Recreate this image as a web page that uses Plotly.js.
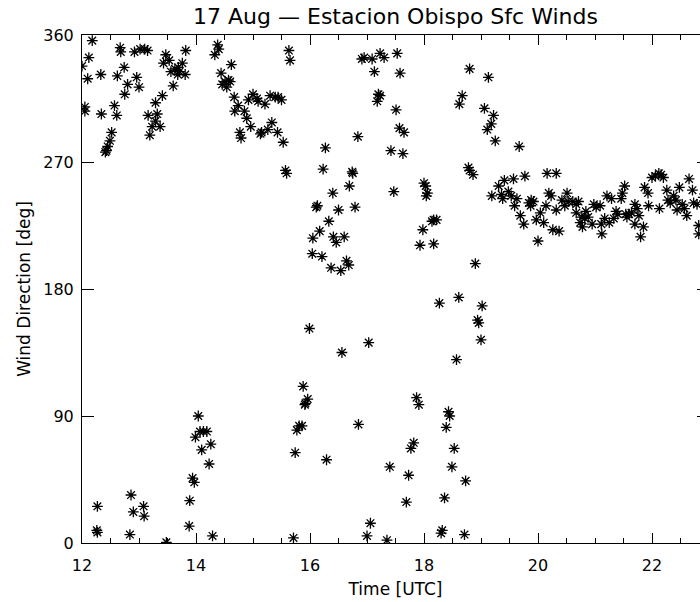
<!DOCTYPE html>
<html>
<head>
<meta charset="utf-8">
<script src="https://cdn.plot.ly/plotly-3.0.1.min.js"></script>
<style>
html,body{margin:0;padding:0;overflow:hidden;background:#fff;}
#chart{width:740px;height:602px;}
</style>
</head>
<body>
<div id="chart"></div>
<script>
// Time (UTC hours) and wind direction (deg)
const timeA = [12.18,12.12,12.00,12.10,12.05,12.05,12.33,12.34,12.52,12.49,12.45,12.41,12.43,12.57,12.61,12.62,12.74,12.67,12.68,12.80,12.75,12.92,13.02,13.10,13.15,12.96,13.00,13.16,13.32,13.29,13.23,13.37,13.19,13.29,13.41,13.60,13.47,13.43,13.53,13.56,13.63,13.69,13.76,13.68,13.81,13.71,13.82,14.33,14.38,14.40,14.62,14.44,14.51,14.46,14.57,14.54,14.60,14.67,14.74,14.68,14.85,14.89,14.96,14.77,14.79,14.92,15.00,15.09,15.07,15.21,15.15,15.13,15.26,15.33,15.30,15.39,15.44,15.50,15.43,15.53,15.57,15.59,15.63,15.65];
const dirA  = [356,344,338,329,309,306,332,304,291,285,281,277,278,310,303,331,337,351,348,325,318,348,350,350,349,330,323,303,304,299,295,295,289,312,317,324,346,340,342,334,336,337,340,332,332,334,349,346,353,350,339,333,327,325,328,323,327,316,310,306,306,301,295,291,287,314,318,313,315,311,291,290,293,298,317,316,316,314,291,284,264,262,349,342];

const timeB = [16.91,16.95,17.09,17.23,17.30,17.53,17.13,17.58,17.20,17.23,17.18,17.51,17.57,17.65,16.84,16.27,17.42,17.63,16.23,16.74,16.75,16.69,16.40,17.47,16.11,16.13,16.50,16.79,16.33,16.17,16.05,16.41,16.46,16.60,16.04,16.21,16.37,16.54,16.64,16.68,18.00,18.03,18.06,18.04,18.17,18.22,18.14,17.98,17.93,18.17,18.80,19.13,18.67,18.62,19.06,19.22,19.18,19.11,19.25,18.78,18.80,18.86,19.19,18.90];
const dirB  = [343,344,343,347,344,347,334,333,318,317,313,307,294,291,288,280,278,276,265,263,262,253,248,249,238,239,236,238,228,221,216,217,213,217,205,203,195,193,200,197,255,253,248,246,229,229,228,222,211,212,336,330,317,311,308,303,297,293,285,266,264,261,246,198];

const timeC = [18.27,18.61,19.02,18.94,18.96,19.00,18.57,15.99,16.56,17.03,15.88,15.96,15.92,15.86,16.85,17.87,17.91,18.43,18.45,18.39,17.82,17.77,18.53,16.29,17.40,17.73,18.49,18.73,17.69,18.36,17.06,17.00,17.35,18.32,18.30,18.71];
const dirC  = [170,174,168,158,156,144,130,152,135,142,111,102,99,83,84,103,98,93,90,82,71,67,67,59,54,48,54,44,29,32,14,5,2,9,7,6];

const timeD = [12.26,12.27,12.27,12.84,12.86,12.90,13.08,13.09,13.48,13.88,13.89,13.94,13.97,14.23,14.10,14.26,13.99,14.04,14.07,14.13,14.19,14.29,15.71,15.74,15.77,15.81,15.91];
const dirD  = [9,7.5,26,6,34,22,26,19,0.5,12,30,46,43,56,66,70,75,90,79,79,79,5,3.6,64,80,83,98];

const timeE = [19.67,19.77,20.16,20.32,19.31,19.41,19.57,19.36,19.38,19.48,19.53,19.63,19.59,19.69,19.75,19.84,19.88,19.92,19.87,19.97,20.04,20.00,20.10,20.14,20.19,20.23,20.26,20.37,20.32,20.42,20.47,20.51,20.53,20.61,20.67,20.71,20.67,20.77,20.74,20.82,20.78,20.88,20.95,20.84,20.98,21.02,21.09,21.11,21.12,21.17,21.21,21.29,21.25,21.33,21.37,21.40,21.46,21.52,21.48,21.54,21.56,21.60,21.64,21.70,21.74,21.77,21.70,21.85,21.80,21.87,21.93,21.94,22.00,22.06,22.12,22.16,22.20,22.13,22.26,22.28,22.32,22.38,22.42,22.44,22.48,22.53,22.57,22.61,22.65,22.71,22.73,22.79,22.82,22.82,22.90,22.95];
const dirE  = [281,260,262,262,253,257,258,247,244,249,246,244,239,232,226,241,243,242,239,229,234,214,227,239,248,246,222,221,236,243,239,248,242,242,240,242,234,231,227,230,224,231,226,235,240,238,239,226,219,230,246,244,227,230,235,233,244,253,248,233,231,233,234,240,237,232,226,224,217,252,248,239,259,260,262,261,259,237,250,243,241,246,243,236,252,240,237,232,258,250,241,240,225,219,245,236];

const xs = [].concat(timeA,timeB,timeC,timeD,timeE);
const ys = [].concat(dirA,dirB,dirC,dirD,dirE);

const font = 'DejaVu Sans, sans-serif';
const trace = {
  x: xs, y: ys, type: 'scatter', mode: 'markers',
  marker: {symbol: 'asterisk-open', size: 9, color: '#000', line: {color: '#000', width: 1.3}},
  hoverinfo: 'x+y', showlegend: false, cliponaxis: true
};

const layout = {
  width: 740, height: 602,
  margin: {l: 82, r: 31, t: 35, b: 59},
  paper_bgcolor: '#fff', plot_bgcolor: '#fff',
  font: {family: font, color: '#000', size: 16},
  title: {text: '17 Aug \u2014 Estacion Obispo Sfc Winds', font: {family: font, size: 22, color: '#000'},
          x: 0.5, xref: 'paper', xanchor: 'center', y: 1 - 16/602, yref: 'container', yanchor: 'middle'},
  xaxis: {
    range: [12, 23], tick0: 12, dtick: 2, ticks: 'inside', ticklen: 10, tickwidth: 1, tickcolor: '#000',
    showline: true, linecolor: '#000', linewidth: 1, mirror: 'ticks', showgrid: false, zeroline: false,
    minor: {dtick: 0.5, tick0: 12, ticks: 'inside', ticklen: 5, tickwidth: 1, tickcolor: '#000', showgrid: false},
    tickfont: {family: font, size: 16, color: '#000'}, ticklabelstandoff: 8,
    title: {text: 'Time [UTC]', font: {family: font, size: 17, color: '#000'}, standoff: 8}
  },
  yaxis: {
    range: [0, 360], tick0: 0, dtick: 90, ticks: 'inside', ticklen: 12, tickwidth: 1, tickcolor: '#000',
    showline: true, linecolor: '#000', linewidth: 1, mirror: 'ticks', showgrid: false, zeroline: false,
    tickfont: {family: font, size: 16, color: '#000'}, ticklabelstandoff: 4,
    title: {text: 'Wind Direction [deg]', font: {family: font, size: 17, color: '#000'}, standoff: 8}
  }
};

Plotly.newPlot('chart', [trace], layout, {staticPlot: true, displayModeBar: false});
</script>
</body>
</html>
